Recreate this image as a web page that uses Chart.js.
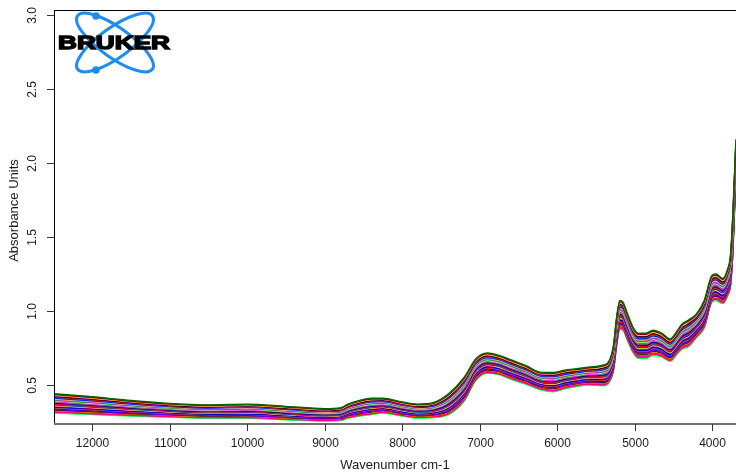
<!DOCTYPE html>
<html>
<head>
<meta charset="utf-8">
<script src="https://cdn.jsdelivr.net/npm/chart.js"></script>
<style>
  html, body { margin: 0; padding: 0; background: #fff; }
  #chart { display: block; }
</style>
</head>
<body>
<canvas id="chart" width="736" height="475"></canvas>
<script>
// anchor wavenumbers (cm-1)
const wavenumbers = [12490, 12000, 11500, 11000, 10500, 10000, 9500, 9000, 8800, 8700, 8550, 8400, 8250, 8000, 7800, 7600, 7400, 7200, 7050, 6900, 6750, 6600, 6400, 6200, 6050, 5900, 5750, 5600, 5400, 5330, 5270, 5230, 5190, 5150, 5090, 5020, 4950, 4850, 4760, 4650, 4540, 4450, 4390, 4300, 4200, 4100, 4000, 3950, 3860, 3800, 3760, 3730, 3690];

// highest and lowest spectrum of the set
const upperSpectrum = [0.44, 0.42, 0.395, 0.375, 0.365, 0.37, 0.355, 0.34, 0.345, 0.37, 0.395, 0.41, 0.41, 0.385, 0.37, 0.38, 0.44, 0.55, 0.675, 0.716, 0.70, 0.67, 0.63, 0.585, 0.585, 0.60, 0.61, 0.62, 0.635, 0.66, 0.77, 0.96, 1.07, 1.06, 0.98, 0.89, 0.85, 0.85, 0.87, 0.85, 0.81, 0.865, 0.91, 0.94, 0.98, 1.07, 1.24, 1.25, 1.22, 1.28, 1.38, 1.65, 2.16];
const lowerSpectrum = [0.31, 0.30, 0.29, 0.283, 0.275, 0.275, 0.265, 0.257, 0.26, 0.275, 0.29, 0.30, 0.31, 0.29, 0.277, 0.28, 0.30, 0.39, 0.53, 0.58, 0.57, 0.54, 0.505, 0.466, 0.455, 0.475, 0.49, 0.50, 0.495, 0.515, 0.60, 0.77, 0.875, 0.87, 0.80, 0.72, 0.68, 0.68, 0.70, 0.69, 0.66, 0.71, 0.74, 0.76, 0.82, 0.885, 1.06, 1.07, 1.05, 1.10, 1.17, 1.40, 1.95];

// where each sample sits inside the band (1 = top, 0 = bottom)
const sampleLevels = [1.00, 0.96, 0.93, 0.91, 0.87, 0.84, 0.82, 0.78, 0.75, 0.73, 0.70, 0.66, 0.64, 0.61, 0.57, 0.55, 0.52, 0.48, 0.46, 0.43, 0.40, 0.37, 0.35, 0.31, 0.29, 0.26, 0.22, 0.20, 0.17, 0.14, 0.11, 0.08, 0.05, 0.03, 0.00];
const sampleColors = ['#006400', '#8B0000', '#FFFF00', '#FF00FF', '#000000', '#FF0000', '#008B8B', '#0000FF', '#BEBEBE', '#FFA500', '#A020F0', '#00CD00', '#FFFFFF', '#FF00FF', '#808080', '#000000', '#0000FF', '#FF0000', '#2E8B57', '#0000FF', '#FFFF00', '#FF00FF', '#000000', '#0000FF', '#808080', '#FF0000', '#0000FF', '#FF00FF', '#000000', '#FFA500', '#FF0000', '#FF00FF', '#FF0000', '#00FFFF', '#00FF00'];

const xTicks = [12000, 11000, 10000, 9000, 8000, 7000, 6000, 5000, 4000];
const yTicks = [0.5, 1.0, 1.5, 2.0, 2.5, 3.0];

const datasets = sampleLevels.map((f, i) => ({
  data: wavenumbers.map((w, j) => ({ x: w, y: lowerSpectrum[j] + f * (upperSpectrum[j] - lowerSpectrum[j]) })),
  borderColor: sampleColors[i],
  borderWidth: 1.5,
  pointRadius: 0,
  fill: false,
  cubicInterpolationMode: "monotone",
}));

const FONT = '"Liberation Sans", Arial, sans-serif';

const axesPlugin = {
  id: "rAxes",
  afterDraw(chart) {
    const ctx = chart.ctx;
    const a = chart.chartArea;
    const xs = chart.scales.x;
    const ys = chart.scales.y;
    ctx.save();

    // frame: top and left black, bottom grey
    ctx.strokeStyle = "#000";
    ctx.lineWidth = 1;
    ctx.beginPath();
    ctx.moveTo(a.left, a.top + 0.5);
    ctx.lineTo(a.right, a.top + 0.5);
    ctx.moveTo(a.left + 0.5, a.top);
    ctx.lineTo(a.left + 0.5, a.bottom + 1);
    ctx.stroke();
    ctx.strokeStyle = "#6e6e6e";
    ctx.lineWidth = 2;
    ctx.beginPath();
    ctx.moveTo(a.left, a.bottom + 1);
    ctx.lineTo(a.right, a.bottom + 1);
    ctx.stroke();

    // ticks
    ctx.strokeStyle = "#333";
    ctx.lineWidth = 1;
    ctx.fillStyle = "#1a1a1a";
    ctx.font = "12px " + FONT;
    ctx.textAlign = "center";
    ctx.textBaseline = "middle";
    xTicks.forEach(v => {
      const px = Math.round(xs.getPixelForValue(v)) + 0.5;
      ctx.beginPath();
      ctx.moveTo(px, a.bottom + 1);
      ctx.lineTo(px, a.bottom + 8);
      ctx.stroke();
      ctx.fillText(String(v), px, 444);
    });
    yTicks.forEach(v => {
      const py = Math.round(ys.getPixelForValue(v)) + 0.5;
      ctx.beginPath();
      ctx.moveTo(a.left - 7, py);
      ctx.lineTo(a.left, py);
      ctx.stroke();
      ctx.save();
      ctx.translate(33, py);
      ctx.rotate(-Math.PI / 2);
      ctx.fillText(v.toFixed(1), 0, 0);
      ctx.restore();
    });

    // axis titles
    ctx.font = "13px " + FONT;
    ctx.fillText("Wavenumber cm-1", (a.left + a.right) / 2, 465);
    ctx.save();
    ctx.translate(14, (a.top + a.bottom) / 2 - 6);
    ctx.rotate(-Math.PI / 2);
    ctx.fillText("Absorbance Units", 0, 0);
    ctx.restore();

    // logo
    const cx = 115, cy = 42.5;
    ctx.strokeStyle = "#1E8CF0";
    ctx.fillStyle = "#1E8CF0";
    ctx.lineWidth = 3;
    [0.62, -0.62].forEach(r => {
      ctx.beginPath();
      ctx.ellipse(cx, cy, 46, 15, r, 0, Math.PI * 2);
      ctx.stroke();
    });
    [[96, 16], [96, 70]].forEach(p => {
      ctx.beginPath();
      ctx.arc(p[0], p[1], 3.8, 0, Math.PI * 2);
      ctx.fill();
    });
    ctx.font = "bold 19px " + FONT;
    ctx.fillStyle = "#000";
    ctx.strokeStyle = "#000";
    ctx.lineWidth = 1.4;
    ctx.textAlign = "left";
    const w = ctx.measureText("BRUKER").width;
    ctx.save();
    ctx.translate(58, 43.5);
    ctx.scale(112 / w, 1);
    ctx.fillText("BRUKER", 0, 0);
    ctx.strokeText("BRUKER", 0, 0);
    ctx.restore();

    ctx.restore();
  },
};

new Chart(document.getElementById("chart"), {
  type: "line",
  data: { datasets: datasets },
  options: {
    responsive: false,
    animation: false,
    events: [],
    layout: { padding: { left: 54, top: 10, right: 0, bottom: 52 } },
    plugins: {
      legend: { display: false },
      tooltip: { enabled: false },
    },
    scales: {
      x: {
        type: "linear",
        display: false,
        reverse: true,
        min: 3690,
        max: 12494,
      },
      y: {
        type: "linear",
        display: false,
        min: 0.243,
        max: 3.034,
      },
    },
  },
  plugins: [axesPlugin],
});
</script>
</body>
</html>
